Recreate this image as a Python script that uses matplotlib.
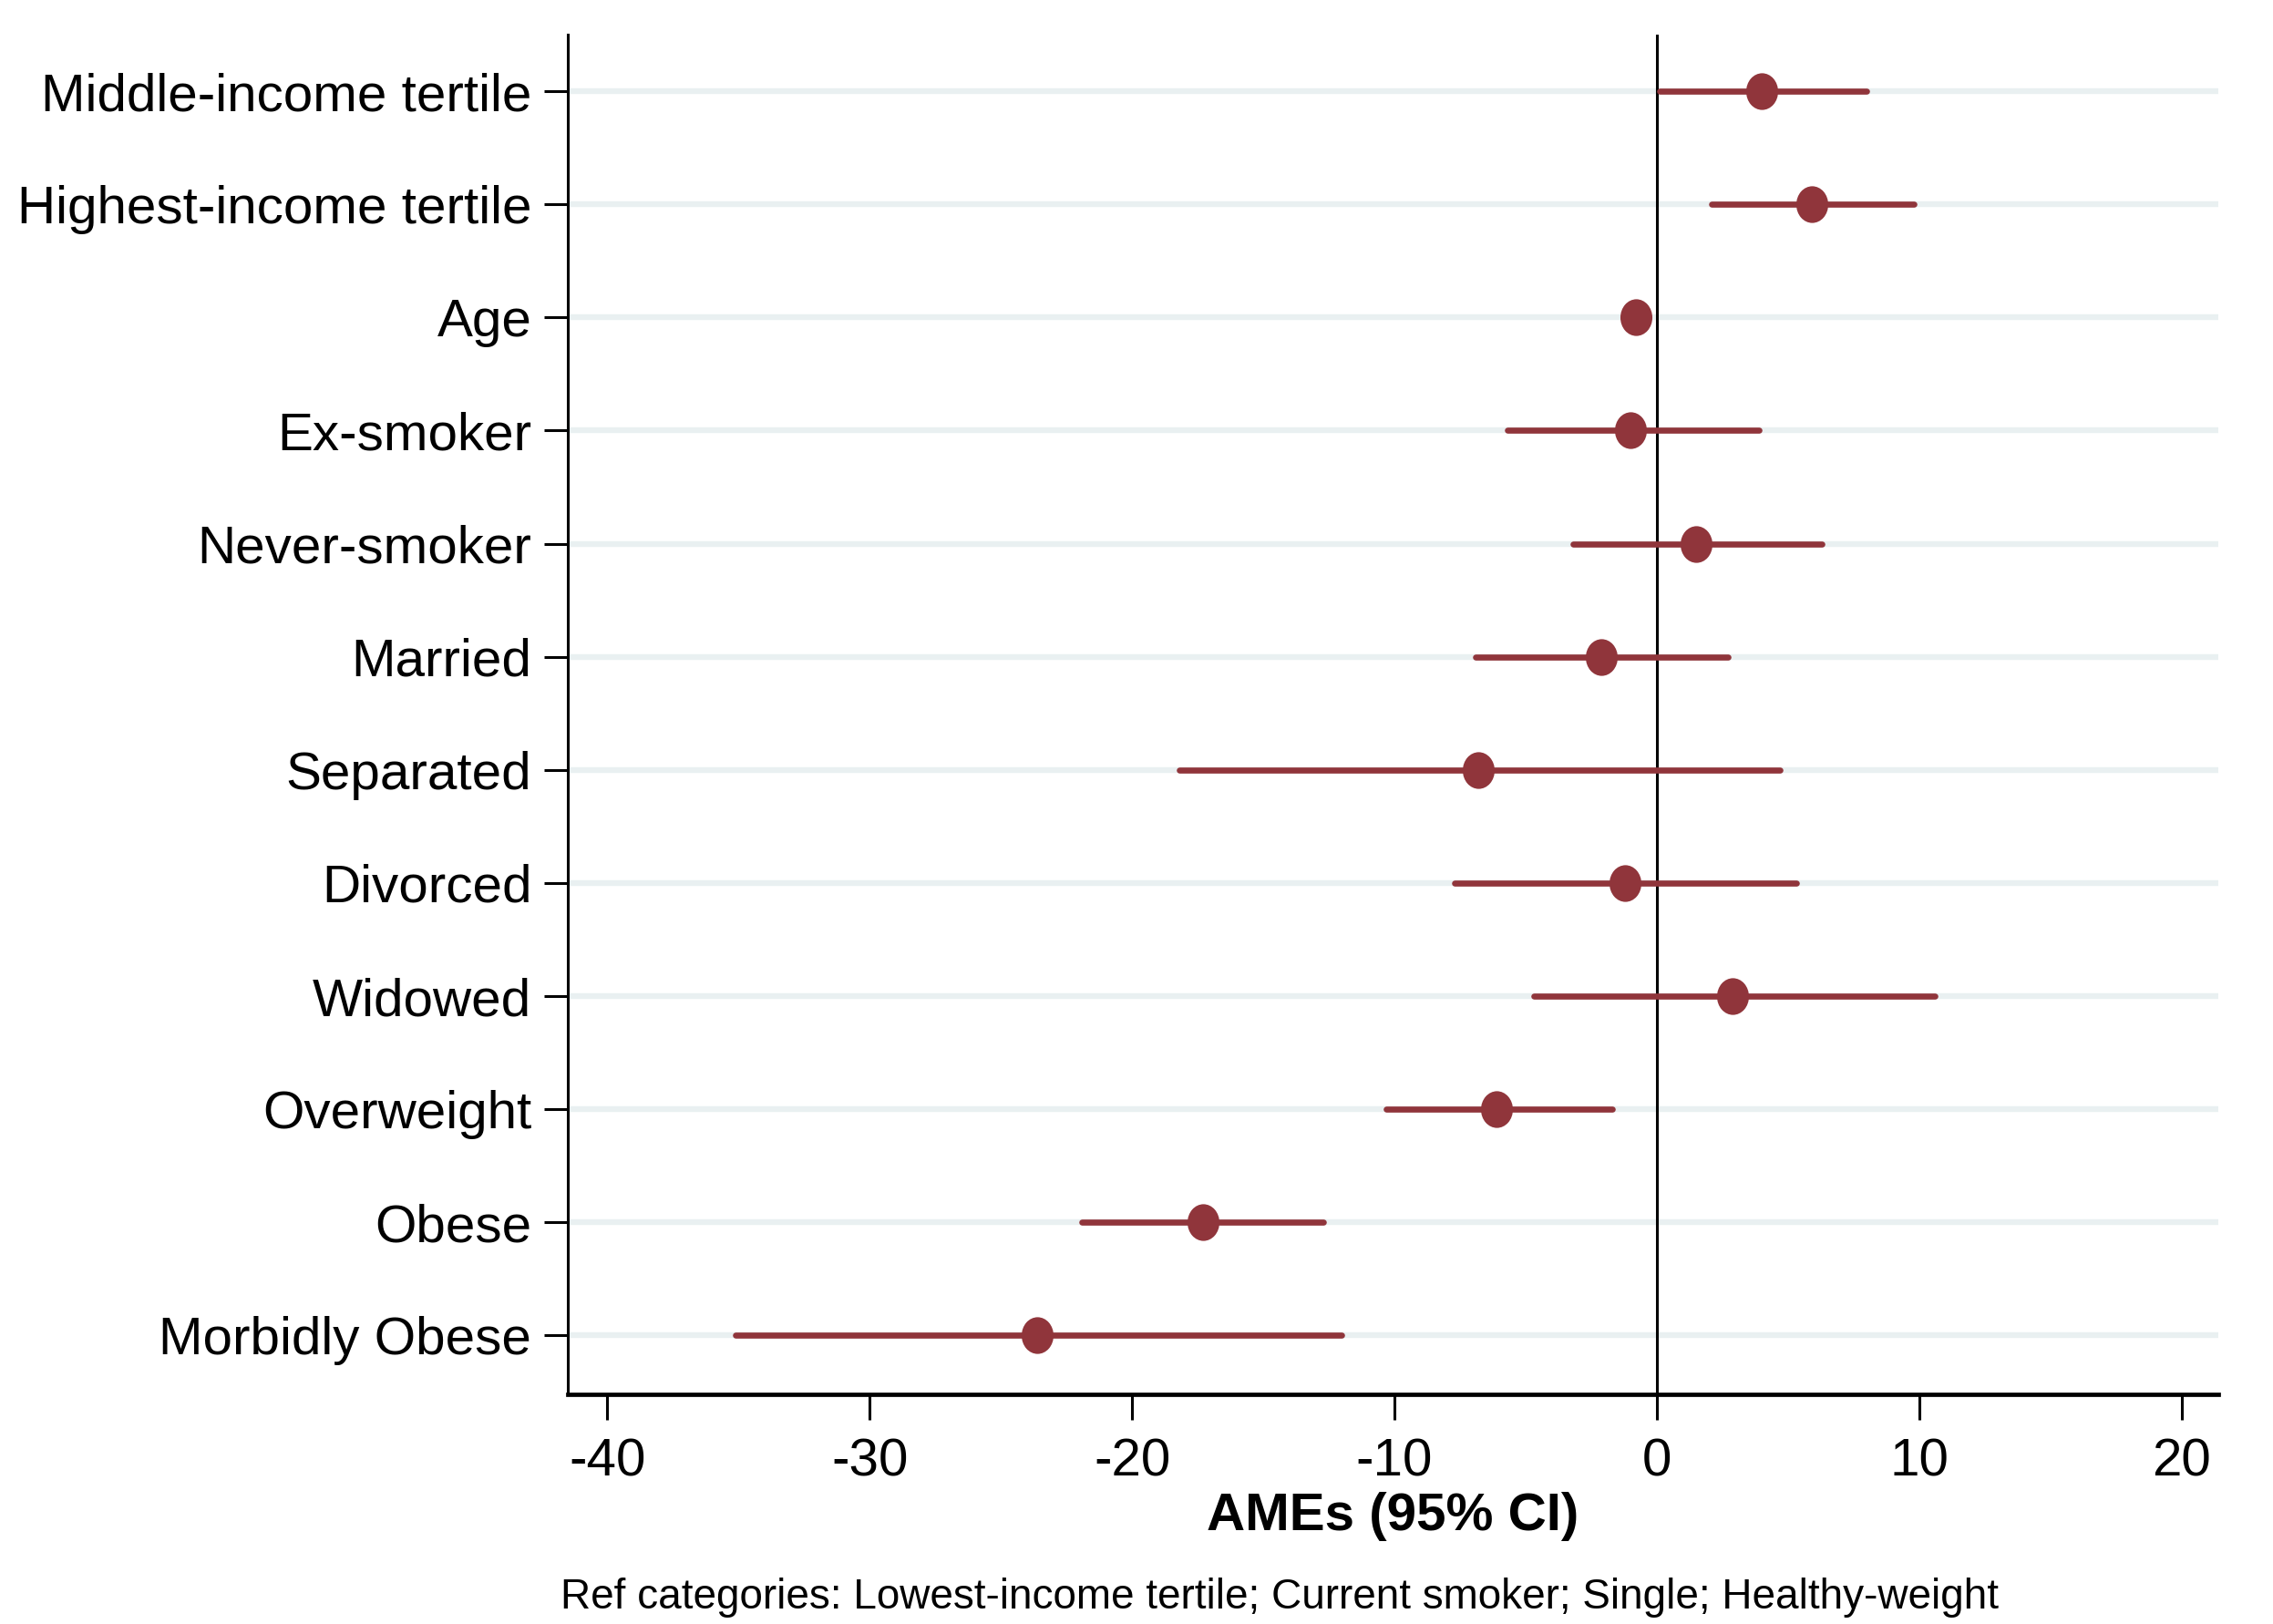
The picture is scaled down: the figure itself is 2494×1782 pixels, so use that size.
import matplotlib
matplotlib.use("Agg")
import matplotlib.pyplot as plt
from matplotlib.path import Path
from matplotlib.transforms import Affine2D
import numpy as np

labels = ["Middle-income tertile", "Highest-income tertile", "Age", "Ex-smoker",
          "Never-smoker", "Married", "Separated", "Divorced", "Widowed",
          "Overweight", "Obese", "Morbidly Obese"]
ame = [4.0, 5.9, -0.8, -1.0, 1.5, -2.1, -6.8, -1.2, 2.9, -6.1, -17.3, -23.6]
ci_low = [0.1, 2.1, -1.0, -5.7, -3.2, -6.9, -18.2, -7.7, -4.7, -10.3, -21.9, -35.1]
ci_high = [8.0, 9.8, -0.6, 3.9, 6.3, 2.7, 4.7, 5.3, 10.6, -1.7, -12.7, -12.0]
xticks = [-40, -30, -20, -10, 0, 10, 20]

plt.rcParams['font.family'] = ['Liberation Sans', 'DejaVu Sans']
fs, fs_ref = 21, 16.5

DPI = 200
fig = plt.figure(figsize=(2494 / DPI, 1782 / DPI), dpi=DPI)
ax = fig.add_axes([0.2498, 0.1414, 0.976 - 0.2498, 0.9787 - 0.1414])

color = "#90353B"
grid_color = "#e9f0f1"
y = np.arange(1, len(labels) + 1)

ellipse = Path.unit_circle().transformed(Affine2D().scale(0.87, 1.0))

for yi in y:
    ax.axhline(yi, color=grid_color, lw=2.3, zorder=0)
ax.axvline(0, color="black", lw=1.1, zorder=1)

ax.hlines(y, ci_low, ci_high, color=color, lw=2.4, capstyle='round', zorder=2)
ax.plot(ame, y, linestyle='none', marker=ellipse, color=color, markersize=14.5,
        markeredgewidth=0, zorder=3)

ax.set_xlim(-41.5, 21.4)
ax.set_ylim(12.52, 0.5)
ax.set_yticks(y)
ax.set_yticklabels(labels, fontsize=fs)
ax.set_xticks(xticks)
ax.set_xticklabels([str(t) for t in xticks], fontsize=fs)

for s in ["top", "right"]:
    ax.spines[s].set_visible(False)
ax.spines["left"].set_linewidth(1.1)
ax.spines["bottom"].set_linewidth(1.7)
ax.tick_params(axis='y', length=9.3, width=1.1, pad=5)
ax.tick_params(axis='x', length=10, width=1.1, pad=7)

ax.set_xlabel("AMEs (95% CI)", fontsize=fs, fontweight='bold', labelpad=2)
fig.text(0.563, 1 - 1753 / 1782, "Ref categories: Lowest-income tertile; Current smoker; Single; Healthy-weight",
         ha='center', va='center', fontsize=fs_ref)

fig.savefig("out.png", dpi=DPI, facecolor="white")
